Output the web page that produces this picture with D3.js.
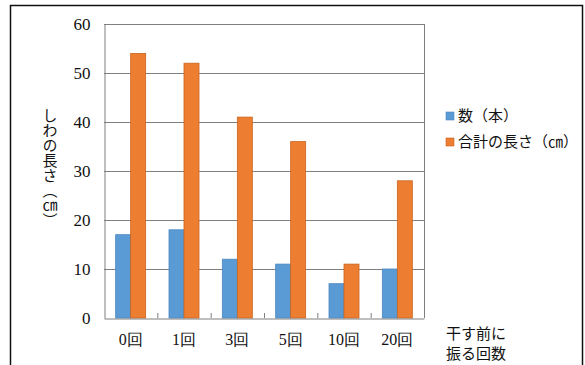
<!DOCTYPE html>
<html><head><meta charset="utf-8">
<script src="https://cdn.jsdelivr.net/npm/d3@7"></script>
<style>body{margin:0;background:#fff}svg{display:block}</style>
</head><body>
<svg id="c" width="585" height="365"></svg>
<script>
const categories = ["0回","1回","3回","5回","10回","20回"];
const seriesNames = ["数（本）","合計の長さ（㎝）"];
const countValues = [17,18,12,11,7,10];
const lengthValues = [54,52,41,36,11,28];
const yTicks = [0,10,20,30,40,50,60];
const colors = ["#5B9BD5","#ED7D31"];
const strokes = ["#4A86C0","#C8641F"];

const svg = d3.select("#c");
const jp = "'Noto Sans CJK JP', sans-serif";
const num = "'Liberation Serif', serif";

svg.append("path").attr("d","M10.5,365 V5.5 H582.5 V365").attr("fill","none").attr("stroke","#111").attr("stroke-width",1.5);

const L=104, R=424, T=24, B=318;
const x = d3.scaleBand().domain(categories).range([L,R]);
const y = d3.scaleLinear().domain([0,60]).range([B,T]);
const xs = d3.scaleBand().domain([0,1]).range([0,30]);

const g = svg.append("g");
g.selectAll("line.grid").data(yTicks.filter(d=>d>0)).enter().append("line")
 .attr("x1",L).attr("x2",R).attr("y1",d=>Math.round(y(d))+0.5).attr("y2",d=>Math.round(y(d))+0.5)
 .attr("stroke","#7f7f7f").attr("stroke-width",1);
g.append("line").attr("x1",R+0.5).attr("x2",R+0.5).attr("y1",T).attr("y2",B).attr("stroke","#7f7f7f");

const data = categories.map((c,i)=>({c, v:[countValues[i], lengthValues[i]]}));
data.forEach(d=>{
  d.v.forEach((v,k)=>{
    const cx = x(d.c)+x.bandwidth()/2 - 15 + xs(k);
    g.append("rect").attr("x",cx).attr("width",xs.bandwidth())
     .attr("y",y(v)).attr("height",B-y(v))
     .attr("fill",colors[k]).attr("stroke",strokes[k]).attr("stroke-width",0.8);
  });
});

const yAxis = d3.axisLeft(y).tickValues(yTicks).tickSize(0).tickPadding(14);
const ya = g.append("g").attr("transform",`translate(${L+0.5},0)`).call(yAxis);
ya.attr("font-family",num).attr("font-size",17);
ya.select(".domain").attr("stroke","#7f7f7f");
ya.selectAll("text").style("font-family",num).style("font-size","17px").attr("fill","#111");

const xAxis = d3.axisBottom(x).tickSize(0).tickPadding(15);
const xa = g.append("g").attr("transform",`translate(0,${B+0.5})`).call(xAxis);
xa.attr("font-family",num).attr("font-size",16);
xa.select(".domain").attr("stroke","#7f7f7f");
xa.selectAll("text").style("font-family",num).style("font-size","16px").attr("fill","#111");
g.selectAll("line.sep").data(categories.slice(1)).enter().append("line")
 .attr("x1",d=>x(d)+0.5).attr("x2",d=>x(d)+0.5).attr("y1",B).attr("y2",B-5).attr("stroke","#7f7f7f");

svg.append("text").attr("x",50).attr("y",108).attr("writing-mode","vertical-rl")
 .style("font-family",jp).style("font-size","15px").attr("fill","#111")
 .text("しわの長さ（㎝）");

svg.append("text").attr("x",446).attr("y",339).style("font-family",jp).style("font-size","15px").attr("fill","#111").text("干す前に");
svg.append("text").attr("x",446).attr("y",359).style("font-family",jp).style("font-size","15px").attr("fill","#111").text("振る回数");

const lg = svg.append("g");
seriesNames.forEach((n,k)=>{
  const cy = 116 + k*26;
  lg.append("rect").attr("x",446).attr("y",cy-4).attr("width",8).attr("height",8).attr("fill",colors[k]).attr("stroke",strokes[k]).attr("stroke-width",0.6);
  lg.append("text").attr("x",458).attr("y",cy).attr("dy","0.35em").style("font-family",jp).style("font-size","15px").attr("fill","#111").text(n);
});
</script>
</body></html>
